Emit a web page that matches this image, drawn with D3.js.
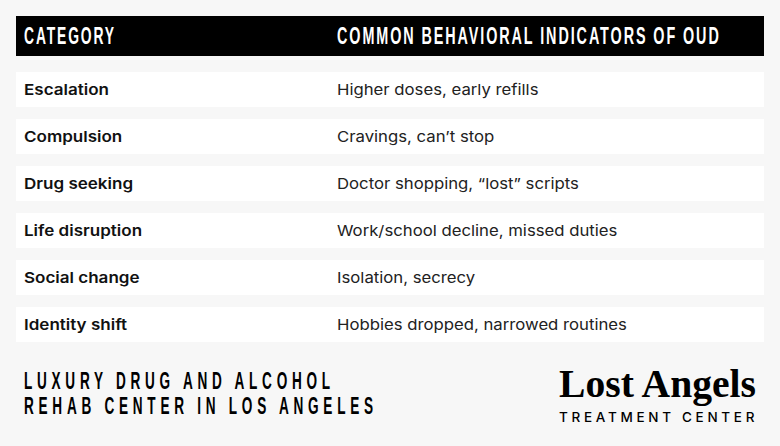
<!DOCTYPE html>
<html>
<head>
<meta charset="utf-8">
<script src="https://cdn.jsdelivr.net/npm/d3@7"></script>
<style>
  html, body { margin: 0; padding: 0; background: #f7f7f7; }
  svg { display: block; }
</style>
</head>
<body>
<div id="chart"></div>
<script>
const headers = ['CATEGORY', 'COMMON BEHAVIORAL INDICATORS OF OUD'];
const categories = ['Escalation', 'Compulsion', 'Drug seeking', 'Life disruption', 'Social change', 'Identity shift'];
const indicators = [
    'Higher doses, early refills',
    'Cravings, can\u2019t stop',
    'Doctor shopping, \u201clost\u201d scripts',
    'Work/school decline, missed duties',
    'Isolation, secrecy',
    'Hobbies dropped, narrowed routines'
];
const taglines = ['LUXURY DRUG AND ALCOHOL', 'REHAB CENTER IN LOS ANGELES'];
const logoName = 'Lost Angels';
const logoSub = 'TREATMENT CENTER';

const width = 780;
const height = 446;
const left = 16;
const right = 764;
const col1 = 24;
const col2 = 337;

// the display font is not installed, so squeeze a bold sans to the measured run length
function fit(sel, x, y, w) {
    const k = w / sel.node().getComputedTextLength();
    sel.attr('transform', `translate(${x},${y}) scale(${k},1)`);
}

const svg = d3.select('#chart')
    .append('svg')
    .attr('width', width)
    .attr('height', height);

svg.append('rect')
    .attr('width', width)
    .attr('height', height)
    .attr('fill', '#f7f7f7');

// header bar
svg.append('rect')
    .attr('x', left)
    .attr('y', 16)
    .attr('width', right - left)
    .attr('height', 40)
    .attr('fill', '#000');

const headFont = '"Liberation Sans", sans-serif';

function headText(text, x, w) {
    svg.append('text')
        .attr('fill', '#fff')
        .style('font-family', headFont)
        .style('font-weight', 700)
        .style('font-size', '24px')
        .style('letter-spacing', '3.2px')
        .text(text)
        .call(fit, x, 43.5, w);
}
headText(headers[0], col1, 92);
headText(headers[1], col2, 384);

// rows
const y = d3.scaleBand()
    .domain(categories)
    .range([72, 342])
    .paddingInner(12 / 47);

svg.selectAll('.row')
    .data(categories)
    .enter()
    .append('rect')
    .attr('class', 'row')
    .attr('x', left)
    .attr('y', d => y(d))
    .attr('width', right - left)
    .attr('height', y.bandwidth())
    .attr('fill', '#fff');

// body font runs wider than Inter
svg.selectAll('.cat')
    .data(categories)
    .enter()
    .append('text')
    .attr('class', 'cat')
    .attr('fill', '#111')
    .style('font-family', 'Inter, sans-serif')
    .style('font-weight', 600)
    .style('font-size', '15px')
    .text(d => d)
    .each(function (d) {
        d3.select(this).attr('transform', `translate(${col1},${y(d) + 23}) scale(1.135,1)`);
    });

svg.selectAll('.ind')
    .data(indicators)
    .enter()
    .append('text')
    .attr('class', 'ind')
    .attr('fill', '#222')
    .style('font-family', 'Inter, sans-serif')
    .style('font-weight', 400)
    .style('font-size', '15px')
    .text(d => d)
    .each(function (d, i) {
        d3.select(this).attr('transform', `translate(${col2},${y(categories[i]) + 23}) scale(1.115,1)`);
    });

// footer tagline
function tagText(text, yPos, w) {
    svg.append('text')
        .attr('fill', '#000')
        .style('font-family', headFont)
        .style('font-weight', 700)
        .style('font-size', '23px')
        .style('letter-spacing', '8px')
        .text(text)
        .call(fit, col1, yPos, w);
}
tagText(taglines[0], 389, 311);
tagText(taglines[1], 413.5, 354);

// logo
svg.append('text')
    .attr('fill', '#000')
    .style('font-family', '"Liberation Serif", serif')
    .style('font-weight', 700)
    .style('font-size', '40px')
    .text(logoName)
    .call(fit, 559, 397, 197);

svg.append('text')
    .attr('x', 559)
    .attr('y', 421.5)
    .attr('fill', '#000')
    .style('font-family', 'Inter, sans-serif')
    .style('font-weight', 500)
    .style('font-size', '13.5px')
    .style('letter-spacing', '3.7px')
    .text(logoSub);
</script>
</body>
</html>
